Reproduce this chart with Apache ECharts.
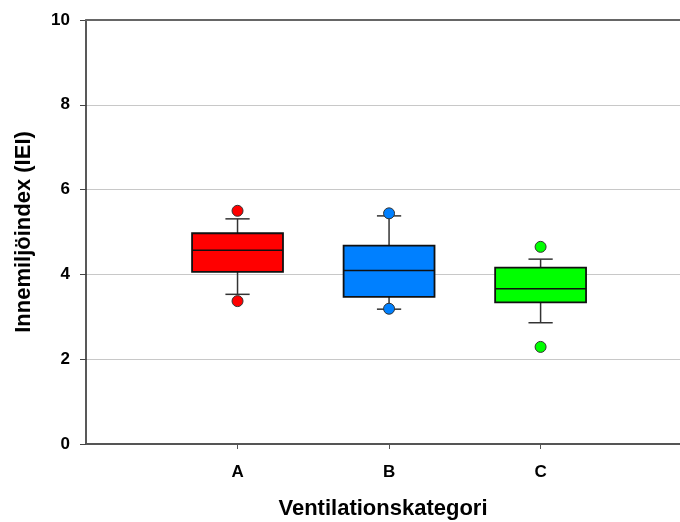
<!DOCTYPE html>
<html>
<head>
<meta charset="utf-8">
<script src="https://cdn.jsdelivr.net/npm/echarts@6/dist/echarts.min.js"></script>
<style>html,body{margin:0;padding:0;background:#fff}#c{width:680px;height:522px}</style>
</head>
<body>
<div id="c"></div>
<script>
var categories = ['A', 'B', 'C'];
var colors = ['#ff0000', '#0080ff', '#00ff00'];
// [lower whisker, Q1, median, Q3, upper whisker]
var boxA = [3.53, 4.06, 4.57, 4.97, 5.31];
var boxB = [3.18, 3.47, 4.09, 4.68, 5.38];
var boxC = [2.86, 3.34, 3.66, 4.16, 4.36];
var outliersA = [5.50, 3.37];
var outliersB = [5.44, 3.19];
var outliersC = [4.65, 2.29];
var yTicks = [0, 2, 4, 6, 8, 10];

var boxes = [boxA, boxB, boxC];
var outs = [outliersA, outliersB, outliersC];
var boxData = boxes.map(function (b, i) { return [i + 1].concat(b); });
var outData = [];
outs.forEach(function (o, i) {
  o.forEach(function (v) { outData.push({ value: [i + 1, v], itemStyle: { color: colors[i] } }); });
});

var chart = echarts.init(document.getElementById('c'));
var font = 'Liberation Sans, Arial, sans-serif';
var xMax = 3.92;
chart.setOption({
  animation: false,
  grid: { left: 86, top: 20, width: 594, height: 424, containLabel: false, outerBoundsMode: 'none' },
  xAxis: [{
    type: 'value', min: 0, max: xMax, interval: 1,
    axisLine: { show: true, onZero: false, lineStyle: { color: '#555', width: 2 } },
    axisTick: { show: true, length: 5, lineStyle: { color: '#555' } },
    splitLine: { show: false },
    axisLabel: {
      margin: 20, fontFamily: font, fontWeight: 'bold', fontSize: 17, color: '#000',
      showMinLabel: false, showMaxLabel: false,
      formatter: function (v) { return categories[Math.round(v) - 1] || ''; }
    },
    name: 'Ventilationskategori', nameLocation: 'middle', nameGap: 54,
    nameTextStyle: { fontFamily: font, fontWeight: 'bold', fontSize: 22, color: '#000' }
  }, {
    type: 'value', position: 'top', min: 0, max: xMax,
    axisLine: { show: true, onZero: false, lineStyle: { color: '#666', width: 2 } },
    axisTick: { show: false }, axisLabel: { show: false }, splitLine: { show: false },
    z: 10
  }],
  yAxis: {
    type: 'value', min: yTicks[0], max: yTicks[yTicks.length - 1], interval: 2,
    axisLine: { show: true, onZero: false, lineStyle: { color: '#222', width: 1.5 } },
    axisTick: { show: true, length: 6, lineStyle: { color: '#444' } },
    splitLine: { show: true, showMaxLine: false, showMinLine: false, lineStyle: { color: '#c8c8c8', width: 1 } },
    axisLabel: { margin: 16, fontFamily: font, fontWeight: 'bold', fontSize: 17, color: '#000' },
    name: 'Innemiljöindex (IEI)', nameLocation: 'middle', nameGap: 51, nameRotate: 90,
    nameTextStyle: { fontFamily: font, fontWeight: 'bold', fontSize: 22, color: '#000' }
  },
  series: [{
    type: 'custom',
    data: boxData,
    encode: { x: 0, y: [1, 2, 3, 4, 5] },
    renderItem: function (params, api) {
      var x = api.value(0);
      var i = x - 1;
      var lo = api.coord([x, api.value(1)]);
      var q1 = api.coord([x, api.value(2)]);
      var med = api.coord([x, api.value(3)]);
      var q3 = api.coord([x, api.value(4)]);
      var hi = api.coord([x, api.value(5)]);
      var bw = api.size([0.6, 0])[0];
      var cw = api.size([0.16, 0])[0];
      var cx = lo[0];
      var ls = { stroke: '#333', lineWidth: 1.5 };
      return {
        type: 'group',
        children: [
          { type: 'line', shape: { x1: cx, y1: hi[1], x2: cx, y2: q3[1] }, style: ls },
          { type: 'line', shape: { x1: cx, y1: q1[1], x2: cx, y2: lo[1] }, style: ls },
          { type: 'line', shape: { x1: cx - cw / 2, y1: hi[1], x2: cx + cw / 2, y2: hi[1] }, style: ls },
          { type: 'line', shape: { x1: cx - cw / 2, y1: lo[1], x2: cx + cw / 2, y2: lo[1] }, style: ls },
          { type: 'rect', shape: { x: cx - bw / 2, y: q3[1], width: bw, height: q1[1] - q3[1] },
            style: { fill: colors[i], stroke: '#111', lineWidth: 1.8 } },
          { type: 'line', shape: { x1: cx - bw / 2, y1: med[1], x2: cx + bw / 2, y2: med[1] },
            style: { stroke: '#111', lineWidth: 1.5 } }
        ]
      };
    }
  }, {
    type: 'scatter',
    data: outData,
    symbol: 'circle', symbolSize: 11,
    itemStyle: { borderColor: '#333', borderWidth: 1, opacity: 1 },
    z: 5
  }]
});
</script>
</body>
</html>
